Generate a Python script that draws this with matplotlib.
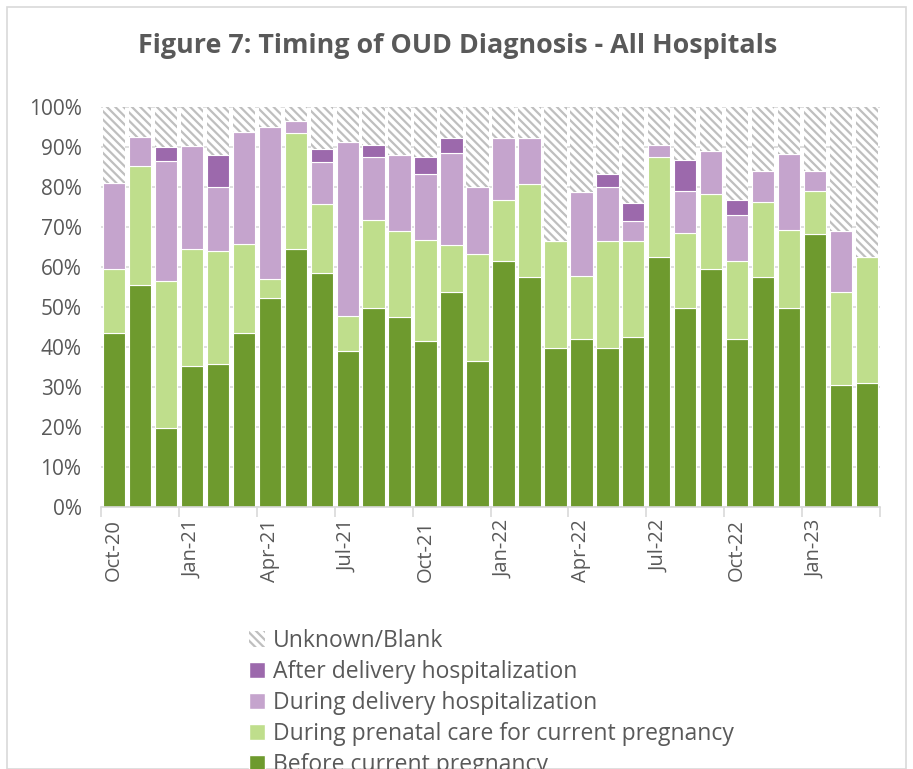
import numpy as np
import matplotlib.pyplot as plt
from matplotlib.patches import Rectangle, Patch

plt.rcParams['font.family'] = ['Open Sans', 'DejaVu Sans']
plt.rcParams['hatch.linewidth'] = 1.6

# ---------------- Data (percent of deliveries) ----------------
months = ['Oct-20', 'Nov-20', 'Dec-20', 'Jan-21', 'Feb-21', 'Mar-21', 'Apr-21', 'May-21',
          'Jun-21', 'Jul-21', 'Aug-21', 'Sep-21', 'Oct-21', 'Nov-21', 'Dec-21', 'Jan-22',
          'Feb-22', 'Mar-22', 'Apr-22', 'May-22', 'Jun-22', 'Jul-22', 'Aug-22', 'Sep-22',
          'Oct-22', 'Nov-22', 'Dec-22', 'Jan-23', 'Feb-23', 'Mar-23']

before_preg = [43.5, 55.4, 19.8, 35.2, 35.8, 43.5, 52.2, 64.4, 58.5, 38.9,
               49.8, 47.5, 41.5, 53.7, 36.5, 61.4, 57.6, 39.8, 41.9, 39.8,
               42.6, 62.4, 49.8, 59.4, 42.0, 57.6, 49.8, 68.2, 30.5, 31.0]
prenatal = [15.9, 29.8, 36.8, 29.2, 28.1, 22.2, 4.9, 29.1, 17.3, 8.9,
            21.9, 21.5, 25.2, 11.7, 26.8, 15.4, 23.1, 26.8, 15.9, 26.8,
            24.0, 25.1, 18.6, 18.9, 19.5, 18.7, 19.4, 10.7, 23.3, 31.4]
during_delivery = [21.7, 7.2, 30.0, 25.8, 16.1, 28.0, 38.0, 3.1, 10.4, 43.4,
                   15.9, 18.9, 16.6, 23.1, 16.6, 15.5, 11.6, 0.0, 21.0, 13.3,
                   4.9, 3.1, 10.5, 10.8, 11.5, 7.8, 19.1, 5.2, 15.3, 0.0]
after_delivery = [0.0, 0.0, 3.3, 0.0, 7.9, 0.0, 0.0, 0.0, 3.4, 0.0,
                  3.0, 0.0, 4.1, 3.7, 0.0, 0.0, 0.0, 0.0, 0.0, 3.3,
                  4.5, 0.0, 7.9, 0.0, 3.8, 0.0, 0.0, 0.0, 0.0, 0.0]
unknown = [18.9, 7.6, 10.1, 9.8, 12.1, 6.3, 4.9, 3.4, 10.4, 8.8,
           9.4, 12.1, 12.6, 7.8, 20.1, 7.7, 7.7, 33.4, 21.2, 16.8,
           24.0, 9.4, 13.2, 10.9, 23.2, 15.9, 11.7, 15.9, 30.9, 37.6]

# name, values, face colour, hatch
series = [
    ('Before current pregnancy', before_preg, '#6E9A2E', None),
    ('During prenatal care for current pregnancy', prenatal, '#BFDE8C', None),
    ('During delivery hospitalization', during_delivery, '#C5A4CD', None),
    ('After delivery hospitalization', after_delivery, '#9C69AC', None),
    ('Unknown/Blank', unknown, 'white', '\\\\\\\\'),
]

fig = plt.figure(figsize=(9.13, 7.69), dpi=100)
ax = fig.add_axes([101 / 913, 262 / 769, 779 / 913, 400 / 769])

x = np.arange(len(months))
bottom = np.zeros(len(months))
handles = []
for name, vals, color, hatch in series:
    vals = np.array(vals)
    if hatch:
        # hatch colour follows edgecolor, so no outline here
        ax.bar(x, vals, 0.86, bottom=bottom, color=color, hatch=hatch,
               edgecolor='#BFBFBF', linewidth=0, zorder=2)
        handles.append(Patch(facecolor=color, hatch=hatch, edgecolor='#BFBFBF',
                             linewidth=0, label=name))
    else:
        ax.bar(x, vals, 0.86, bottom=bottom, color=color,
               edgecolor='white', linewidth=0.8, zorder=2)
        handles.append(Patch(facecolor=color, edgecolor='white', label=name))
    bottom += vals

# axes styling
ax.set_xlim(-0.5, len(months) - 0.5)
ax.set_ylim(0, 100)
ax.set_yticks(np.arange(0, 101, 10))
ax.set_yticklabels([f'{v}%' for v in range(0, 101, 10)])
ax.grid(axis='y', color='#D9D9D9', linewidth=1.2, zorder=0)
ax.set_axisbelow(True)
for s in ['top', 'right', 'left']:
    ax.spines[s].set_visible(False)
ax.spines['bottom'].set_color('#D9D9D9')
ax.spines['bottom'].set_linewidth(1.2)

ax.set_xticks(x[::3])
ax.set_xticklabels(months[::3], rotation=90)
ax.set_xticks(np.arange(-0.5, len(months), 3), minor=True)
ax.tick_params(axis='x', which='major', length=0, pad=9)
ax.tick_params(axis='x', which='minor', length=7, color='#D9D9D9', width=1.2)
ax.tick_params(axis='x', labelsize=14.5)
ax.tick_params(axis='y', length=0, pad=14, labelsize=15)
ax.tick_params(labelcolor='#595959')

fig.text(458 / 913, 1 - 46 / 769, 'Figure 7: Timing of OUD Diagnosis - All Hospitals',
         ha='center', va='center', fontsize=19.4, fontweight='bold', color='#595959')

# legend runs off the bottom edge, as in the original
fig.legend(handles=handles[::-1], loc='upper left', bbox_to_anchor=(240 / 913, 1 - 620 / 769),
           frameon=False, fontsize=16.5, labelcolor='#595959', handlelength=0.7,
           handleheight=0.7, handletextpad=0.35, labelspacing=0.3, borderaxespad=0)

fig.add_artist(Rectangle((7 / 913, 0), 899 / 913, 1 - 7 / 769, transform=fig.transFigure,
                         fill=False, edgecolor='#D9D9D9', linewidth=1.2))

fig.savefig('out.png', dpi=100)
